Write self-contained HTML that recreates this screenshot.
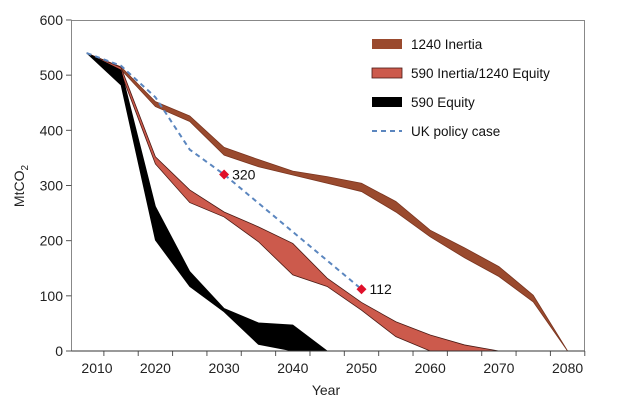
<!DOCTYPE html>
<html><head><meta charset="utf-8"><style>
body{margin:0;background:#fff;}
svg{display:block;font-family:"Liberation Sans",sans-serif;}
</style></head><body>
<svg id="chart" width="623" height="418"></svg>
<script>
const years=[2010,2015,2020,2025,2030,2035,2040,2045,2050,2055,2060,2065,2070,2075,2080];
const inertiaUpper=[540,515,452,426,369,347,326,316,304,271,219,187,153,101,0];
const inertiaLower=[540,510,443,416,355,334,319,304,289,252,207,169,135,89,0];
const midUpper=[540,514,352,292,252,225,195,132,88,53,29,11,0,0,0];
const midLower=[540,504,339,269,243,198,138,117,74,26,0,0,0,0,0];
const eqYears=[2010,2015,2020,2025,2030,2035,2040,2045];
const eqUpper=[540,509,262,144,77,51,47,0];
const eqLower=[540,482,201,117,71,12,0,0];
const policyYears=[2010,2015,2020,2025,2030,2050];
const policyVals=[540,517,460,365,320,112];
const markerYears=[2030,2050];
const markerVals=[320,112];
const yTicks=[0,100,200,300,400,500,600];
const xTickLabels=[2010,2020,2030,2040,2050,2060,2070,2080];

const NS="http://www.w3.org/2000/svg";
const svg=document.getElementById('chart');
const X=y=>86.7+(y-2010)*6.87;
const Y=v=>351-v*0.5517;
function mk(t,a){const e=document.createElementNS(NS,t);for(const k in a)e.setAttribute(k,a[k]);svg.appendChild(e);return e;}
function band(xs,up,lo,fill,stroke,name){
  let d='M'+xs.map((y,i)=>X(y)+','+Y(up[i])).join('L');
  for(let i=xs.length-1;i>=0;i--)d+='L'+X(xs[i])+','+Y(lo[i]);
  const p=mk('path',{d:d+'Z',fill:fill,stroke:stroke,'stroke-width':0.8});
  
  
}
// frame
const fr=mk('rect',{x:71.5,y:20.5,width:513,height:330.5,fill:'none',stroke:'#888','stroke-width':1});


// y ticks
yTicks.forEach(v=>{
  mk('line',{x1:66,x2:71.5,y1:Y(v),y2:Y(v),stroke:'#555'});
  const t=mk('text',{x:63,y:Y(v)+5,'text-anchor':'end','font-size':14,fill:'#222'});
  t.textContent=v;
  
  
});
for(let y=2012.5;y<2085;y+=5){mk('line',{x1:X(y),x2:X(y),y1:351,y2:356,stroke:'#555'});}
xTickLabels.forEach(v=>{
  const t=mk('text',{x:v===2010?97:X(v),y:373,'text-anchor':'middle','font-size':14,fill:'#222'});
  t.textContent=v;
  
  
});
band(years,inertiaUpper,inertiaLower,'#9a4a2e','#7a3520','band-1240-inertia');
band(years,midUpper,midLower,'#cc5a4c','#4a1a14','band-590-inertia-1240-equity');
band(eqYears,eqUpper,eqLower,'#000','#000','band-590-equity');
mk('line',{x1:71.5,x2:584.5,y1:351,y2:351,stroke:'#333'});
const pl=mk('polyline',{points:policyYears.map((y,i)=>X(y)+','+Y(policyVals[i])).join(' '),fill:'none',stroke:'#5b86bf','stroke-width':2,'stroke-dasharray':'5,4'});


markerYears.forEach((y,i)=>{
  const cx=X(y),cy=Y(markerVals[i]);
  const m=mk('path',{d:`M${cx},${cy-5}L${cx+5},${cy}L${cx},${cy+5}L${cx-5},${cy}Z`,fill:'#e0102a'});
  
  
  const t=mk('text',{x:cx+8,y:cy+5,'font-size':14,fill:'#111'});
  t.textContent=markerVals[i];
  
  
});
// legend
const leg=[['#9a4a2e','1240 Inertia'],['#cc5a4c','590 Inertia/1240 Equity'],['#000','590 Equity']];
leg.forEach((l,i)=>{
  const y=44+i*29;
  const r=mk('rect',{x:372,y:y-5,width:30,height:10,fill:l[0],stroke:i==1?'#4a1a14':'none','stroke-width':0.8});
  
  
  const t=mk('text',{x:411,y:y+5,'font-size':13.5,fill:'#111'});
  t.textContent=l[1];
  
  
});
mk('line',{x1:372,x2:402,y1:131,y2:131,stroke:'#5b86bf','stroke-width':2,'stroke-dasharray':'5,4'});
const lt=mk('text',{x:411,y:136,'font-size':13.5,fill:'#111'});
lt.textContent='UK policy case';


// axis titles
const xt=mk('text',{x:326,y:395,'text-anchor':'middle','font-size':14,fill:'#222'});
xt.textContent='Year';


const yt=mk('text',{x:0,y:0,'text-anchor':'middle','font-size':14,fill:'#222',transform:'translate(24,186) rotate(-90)'});
yt.innerHTML='MtCO<tspan font-size="10" dy="4">2</tspan>';


</script>
</body></html>
